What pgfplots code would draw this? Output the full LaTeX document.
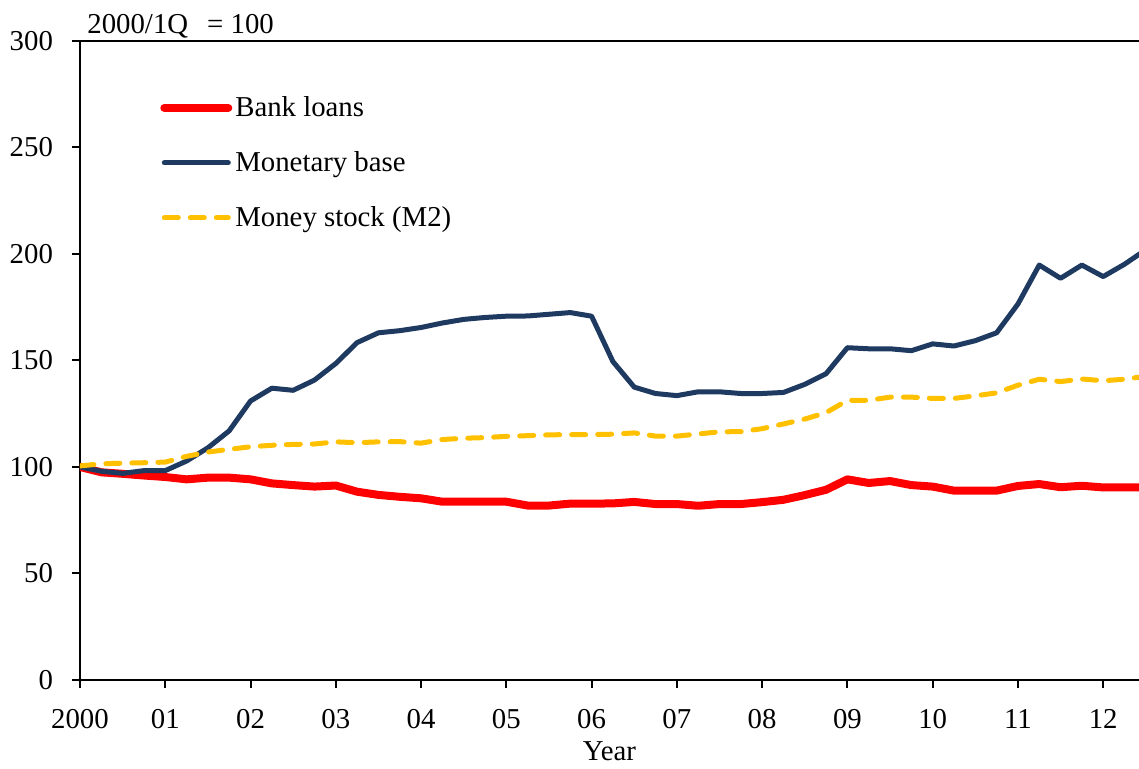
\documentclass[border=0pt]{standalone}
\usepackage{fontspec}
\setmainfont{Liberation Serif}
\usepackage{pgfplots}
\pgfplotsset{compat=1.18}
\definecolor{loanred}{HTML}{FF0000}
\definecolor{basenavy}{HTML}{1F3A60}
\definecolor{mgold}{HTML}{FFC000}
\begin{document}
\begin{tikzpicture}
\useasboundingbox (-40pt,-44.5pt) rectangle (529.5pt,340pt);
\begin{axis}[
  at={(0,0)}, anchor=south west,
  scale only axis, width=529.5pt, height=319.5pt,
  font=\fontsize{14.4}{17}\selectfont,
  /pgf/number format/assume math mode=true,
  xmin=0, xmax=12.42, ymin=0, ymax=300,
  axis x line*=bottom, axis y line*=left,
  axis line style={line width=1pt, black},
  every tick/.style={line width=1pt, black},
  tick align=outside, major tick length=4pt,
  xtick={0,1,...,12},
  xticklabels={2000,01,02,03,04,05,06,07,08,09,10,11,12},
  xticklabel style={yshift=-7pt},
  yticklabel style={xshift=-6pt},
  ytick={0,50,...,300},
  xlabel={Year},
  xlabel style={at={(axis description cs:0.5,0)}, anchor=north, inner sep=0pt, yshift=-30.5pt},
  clip mode=individual,
  legend style={draw=none, fill=none, at={(rel axis cs:0.0698,0.925)}, anchor=north west,
    row sep=13pt, font=\fontsize{14.4}{17}\selectfont,
    nodes={inner sep=1.5pt}},
  legend cell align=left,
  legend image code/.code={\draw[#1] (0pt,0pt) -- (32pt,0pt);},
]
\addplot[loanred, line width=4pt, line join=round, line cap=round] coordinates {
(0,100)(0.25,97.5)(0.5,96.8)(0.75,96.0)(1,95.3)(1.25,94.2)(1.5,95.0)(1.75,95.0)
(2,94.2)(2.25,92.3)(2.5,91.5)(2.75,90.8)(3,91.3)(3.25,88.4)(3.5,86.9)(3.75,86.0)
(4,85.3)(4.25,83.7)(4.5,83.7)(4.75,83.7)(5,83.7)(5.25,81.9)(5.5,81.9)(5.75,82.8)
(6,82.8)(6.25,82.9)(6.5,83.6)(6.75,82.6)(7,82.6)(7.25,81.8)(7.5,82.6)(7.75,82.6)
(8,83.5)(8.25,84.6)(8.5,86.8)(8.75,89.3)(9,94.2)(9.25,92.5)(9.5,93.4)(9.75,91.5)
(10,90.8)(10.25,88.9)(10.5,88.9)(10.75,88.9)(11,91.1)(11.25,92.0)(11.5,90.5)(11.75,91.2)
(12,90.4)(12.25,90.4)(12.5,90.4)};
\addlegendentry{Bank loans}
\addplot[basenavy, line width=2.5pt, line join=round, line cap=round] coordinates {
(0,100)(0.25,98)(0.5,97)(0.75,98.3)(1,98.3)(1.25,102.8)(1.5,109)(1.75,117)
(2,131)(2.25,137)(2.5,136)(2.75,140.8)(3,148.6)(3.25,158.4)(3.5,163)(3.75,164)
(4,165.5)(4.25,167.6)(4.5,169.3)(4.75,170.2)(5,170.8)(5.25,170.9)(5.5,171.7)(5.75,172.5)
(6,170.8)(6.25,149.5)(6.5,137.5)(6.75,134.5)(7,133.5)(7.25,135.3)(7.5,135.3)(7.75,134.5)
(8,134.5)(8.25,135)(8.5,138.8)(8.75,143.8)(9,156)(9.25,155.5)(9.5,155.5)(9.75,154.6)
(10,157.8)(10.25,156.8)(10.5,159.3)(10.75,163)(11,176.5)(11.25,194.8)(11.5,188.6)(11.75,194.8)
(12,189.4)(12.25,195.2)(12.5,202)};
\addlegendentry{Monetary base}
\addplot[mgold, line width=2.5pt, line join=round, line cap=round, dash pattern=on 7pt off 6pt] coordinates {
(0,100.5)(0.25,101.5)(0.5,101.8)(0.75,102)(1,102.3)(1.25,105)(1.5,107)(1.75,108.3)
(2,109.5)(2.25,110.2)(2.5,110.6)(2.75,110.8)(3,111.8)(3.25,111.4)(3.5,111.8)(3.75,111.9)
(4,111.2)(4.25,112.9)(4.5,113.5)(4.75,113.8)(5,114.4)(5.25,114.7)(5.5,115.1)(5.75,115.2)
(6,115.2)(6.25,115.4)(6.5,116.0)(6.75,114.5)(7,114.5)(7.25,115.5)(7.5,116.5)(7.75,116.6)
(8,118)(8.25,120.2)(8.5,122.5)(8.75,125.5)(9,131.3)(9.25,131.3)(9.5,132.8)(9.75,132.8)
(10,132.2)(10.25,132.2)(10.5,133.4)(10.75,134.8)(11,138.4)(11.25,141.2)(11.5,140.1)(11.75,141.3)
(12,140.5)(12.25,141.2)(12.5,142.6)};
\addlegendentry{Money stock (M2)}
\draw[line width=1pt, black] (rel axis cs:0,1) -- (rel axis cs:1,1);
\node[anchor=base west, inner sep=0pt] at ([xshift=3.5pt, yshift=3.5pt]rel axis cs:0,1) {2000/1Q\hspace{9.5pt}= 100};
\end{axis}
\end{tikzpicture}
\end{document}
